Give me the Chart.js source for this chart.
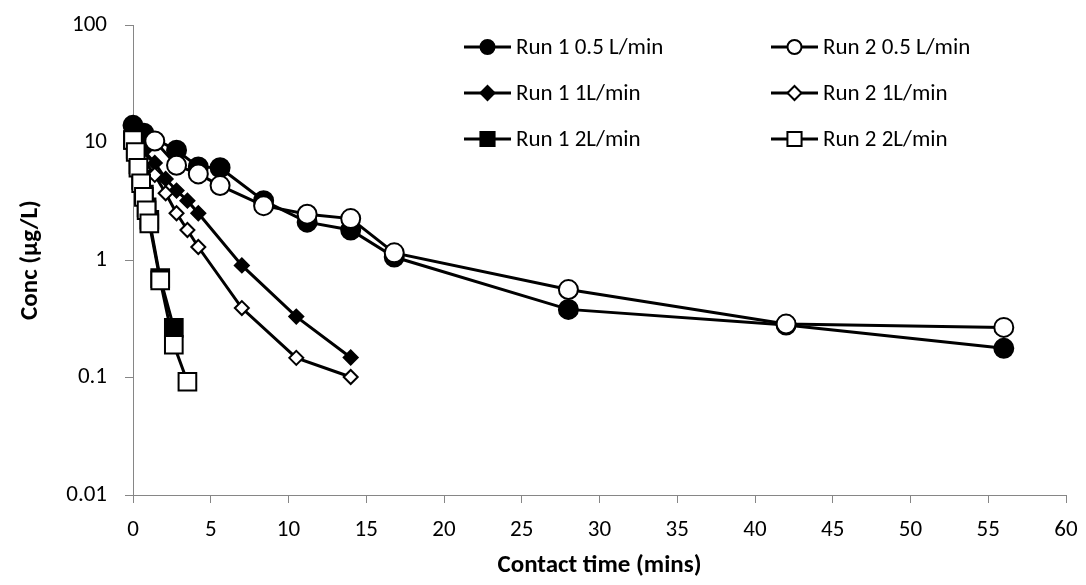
<!DOCTYPE html>
<html>
<head>
<meta charset="utf-8">
<script src="https://cdn.jsdelivr.net/npm/chart.js@4/dist/chart.umd.min.js"></script>
<style>
  html, body { margin: 0; padding: 0; background: #fff; }
  #wrap { width: 1086px; height: 585px; }
</style>
</head>
<body>
<div id="wrap"><canvas id="conc" width="1086" height="585"></canvas></div>
<script>
// contact time (mins) and concentration (ug/L)
const timeRun1Low = [0, 0.7, 2.8, 4.2, 5.6, 8.4, 11.2, 14, 16.8, 28, 42, 56];
const concRun1Low = [14, 12, 8.6, 6.2, 6.1, 3.2, 2.1, 1.8, 1.06, 0.38, 0.28, 0.177];
const timeRun2Low = [1.4, 2.8, 4.2, 5.6, 8.4, 11.2, 14, 16.8, 28, 42, 56];
const concRun2Low = [10.3, 6.4, 5.4, 4.3, 2.9, 2.45, 2.25, 1.15, 0.56, 0.285, 0.267];
const timeRun1Mid = [0, 0.7, 1.4, 2.1, 2.8, 3.5, 4.2, 7, 10.5, 14];
const concRun1Mid = [11, 8.5, 6.7, 4.9, 3.9, 3.2, 2.5, 0.9, 0.33, 0.148];
const timeRun2Mid = [0, 0.7, 1.4, 2.1, 2.8, 3.5, 4.2, 7, 10.5, 14];
const concRun2Mid = [9.5, 7, 5.3, 3.7, 2.5, 1.8, 1.29, 0.39, 0.147, 0.101];
const timeRun1High = [0, 0.175, 0.35, 0.525, 0.7, 0.875, 1.05, 1.75, 2.625];
const concRun1High = [10.5, 8.8, 6.5, 4.8, 3.6, 2.8, 2.2, 0.7, 0.264];
const timeRun2High = [0, 0.175, 0.35, 0.525, 0.7, 0.875, 1.05, 1.75, 2.625, 3.5];
const concRun2High = [10.5, 8.3, 6.1, 4.5, 3.45, 2.65, 2.05, 0.67, 0.19, 0.092];

const yTicks = [0.01, 0.1, 1, 10, 100];

const FONT = 'Carlito, Calibri, Lato, "Liberation Sans", sans-serif';

function pts(t, c) {
  return t.map((x, i) => ({ x: x, y: c[i] }));
}

function series(label, t, c, style, radius, fill, order) {
  return {
    label: label,
    data: pts(t, c),
    borderColor: '#000',
    borderWidth: 3,
    pointStyle: style,
    pointRadius: radius,
    pointBorderWidth: 2,
    pointBorderColor: '#000',
    pointBackgroundColor: fill,
    tension: 0,
    clip: false,
    order: order
  };
}

// legend order (row by row, two columns) like the original
const datasets = [
  series('Run 1 0.5 L/min', timeRun1Low, concRun1Low, 'circle', 9.5, '#000', 5),
  series('Run 2 0.5 L/min', timeRun2Low, concRun2Low, 'circle', 9.5, '#fff', 2),
  series('Run 1 1L/min', timeRun1Mid, concRun1Mid, 'rectRot', 7, '#000', 4),
  series('Run 2 1L/min', timeRun2Mid, concRun2Mid, 'rectRot', 7, '#fff', 1),
  series('Run 1 2L/min', timeRun1High, concRun1High, 'rect', 12.5, '#000', 3),
  series('Run 2 2L/min', timeRun2High, concRun2High, 'rect', 12.5, '#fff', 0)
];

function marker(ctx, style, x, y, r, fill) {
  ctx.beginPath();
  if (style === 'circle') {
    ctx.arc(x, y, r, 0, Math.PI * 2);
  } else if (style === 'rect') {
    const h = r * Math.SQRT1_2;
    ctx.rect(x - h, y - h, 2 * h, 2 * h);
  } else {
    ctx.moveTo(x - r, y); ctx.lineTo(x, y - r); ctx.lineTo(x + r, y); ctx.lineTo(x, y + r);
    ctx.closePath();
  }
  ctx.fillStyle = fill;
  ctx.fill();
  ctx.lineWidth = 2;
  ctx.strokeStyle = '#000';
  ctx.stroke();
}

// Excel style legend: line through marker, 2 columns
const legendBox = {
  id: 'legendBox',
  afterDraw(chart) {
    const ctx = chart.ctx;
    const cols = [464, 771], rows = [47, 93, 139];
    const legendR = { circle: 7, rectRot: 7, rect: 10 };
    ctx.save();
    chart.data.datasets.forEach((ds, i) => {
      const x = cols[i % 2], y = rows[Math.floor(i / 2)];
      ctx.beginPath();
      ctx.moveTo(x, y); ctx.lineTo(x + 47, y);
      ctx.lineWidth = 3; ctx.strokeStyle = '#000';
      ctx.stroke();
      marker(ctx, ds.pointStyle, x + 23.5, y, legendR[ds.pointStyle], ds.pointBackgroundColor);
      ctx.fillStyle = '#000';
      ctx.font = '23px ' + FONT;
      ctx.textBaseline = 'middle';
      ctx.textAlign = 'left';
      ctx.fillText(ds.label, x + 52, y + 1);
    });
    ctx.restore();
  }
};

new Chart(document.getElementById('conc'), {
  type: 'line',
  data: { datasets: datasets },
  options: {
    responsive: false,
    animation: false,
    devicePixelRatio: 1,
    layout: { padding: { top: 25, right: 20, left: 0, bottom: 0 } },
    plugins: { legend: { display: false }, tooltip: { enabled: false } },
    scales: {
      x: {
        type: 'linear',
        min: 0,
        max: 60,
        ticks: { stepSize: 5, color: '#000', font: { family: FONT, size: 23 }, padding: 13, maxRotation: 0 },
        grid: { drawOnChartArea: false, drawTicks: true, tickLength: 8, color: '#868686' },
        border: { color: '#868686', width: 1 },
        title: { display: true, text: 'Contact time (mins)', color: '#000', font: { family: FONT, size: 25, weight: 'bold' }, padding: { top: 5 } },
        afterFit(scale) {
          scale.height = 90;
          scale.paddingLeft = 0;
          scale.paddingRight = 0;
        }
      },
      y: {
        type: 'logarithmic',
        min: 0.01,
        max: 100,
        afterBuildTicks(scale) { scale.ticks = yTicks.map(v => ({ value: v })); },
        ticks: { color: '#000', font: { family: FONT, size: 23 }, padding: 18, callback: v => String(v) },
        grid: { drawOnChartArea: false, drawTicks: true, tickLength: 8, color: '#868686' },
        border: { color: '#868686', width: 1 },
        title: { display: true, text: 'Conc (µg/L)', color: '#000', font: { family: FONT, size: 25, weight: 'bold' }, padding: { bottom: 0, top: 16 } },
        afterFit(scale) {
          scale.width = 133;
          scale.paddingTop = 0;
          scale.paddingBottom = 0;
        }
      }
    }
  },
  plugins: [legendBox]
});
</script>
</body>
</html>
